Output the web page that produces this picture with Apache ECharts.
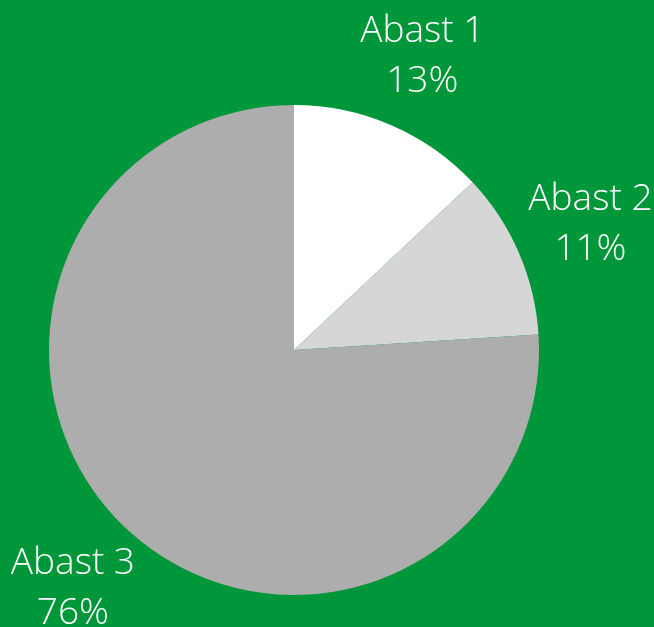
<!DOCTYPE html>
<html>
<head>
<meta charset="utf-8">
<script src="https://cdn.jsdelivr.net/npm/echarts@6/dist/echarts.min.js"></script>
<style>
    html, body { margin: 0; padding: 0; background: #00963a; }
    #chart { width: 654px; height: 627px; }
</style>
</head>
<body>
<div id="chart"></div>
<script>
var categories = ['Abast 1', 'Abast 2', 'Abast 3'];
var values = [13, 11, 76];
var colors = ['#ffffff', '#d6d6d6', '#adadad'];

var pieData = categories.map(function (name, i) {
    return { name: name, value: values[i], itemStyle: { color: colors[i] } };
});

var chart = echarts.init(document.getElementById('chart'));
chart.setOption({
    backgroundColor: '#00963a',
    animation: false,
    series: [
        {
            type: 'pie',
            center: [294, 350],
            radius: 245,
            startAngle: 90,
            clockwise: true,
            silent: true,
            label: { show: false },
            labelLine: { show: false },
            data: pieData
        },
        {
            // transparent ring used only to place the labels radially outside the pie
            type: 'pie',
            center: [294, 350],
            radius: [245, 395],
            startAngle: 90,
            clockwise: true,
            silent: true,
            percentPrecision: 0,
            itemStyle: { color: 'rgba(0,0,0,0)' },
            label: {
                show: true,
                position: 'inside',
                formatter: '{b}\n{d}%',
                color: '#ffffff',
                fontFamily: 'Open Sans',
                fontWeight: 300,
                fontSize: 37,
                lineHeight: 50,
                align: 'center',
                offset: [0, 3]
            },
            labelLine: { show: false },
            data: categories.map(function (name, i) {
                return { name: name, value: values[i] };
            })
        }
    ]
});
</script>
</body>
</html>
